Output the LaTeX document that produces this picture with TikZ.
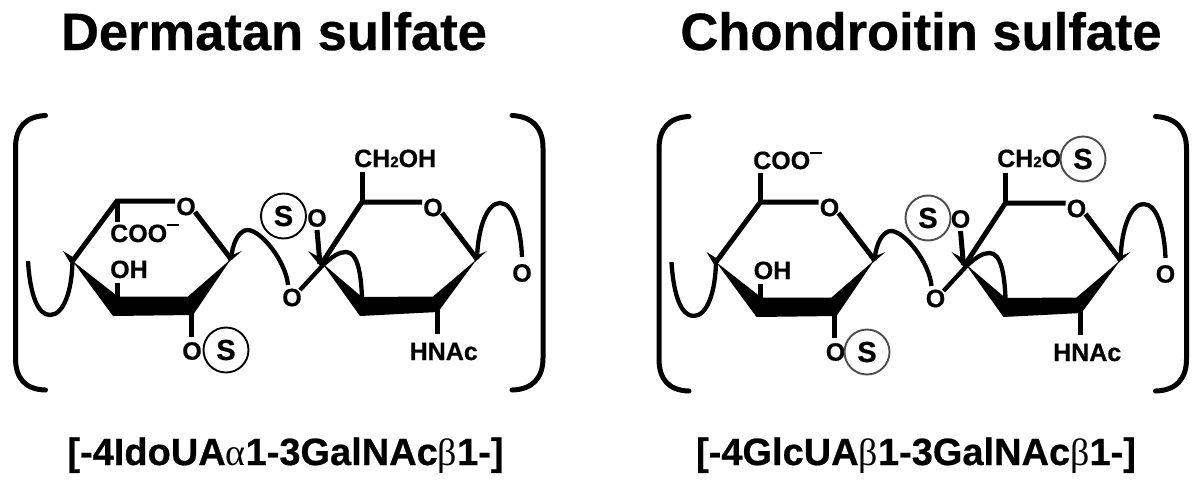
\documentclass[tikz,border=0pt]{standalone}
\usepackage{fontspec}
\setmainfont{Liberation Sans}[BoldFeatures={FakeBold=0.6}]
\newfontfamily\grk{Liberation Serif}
\tikzset{
  bond/.style={line width=5pt,line cap=butt},
  thin curve/.style={line width=4.3pt,line cap=butt},
  wedge/.style={fill=black,draw=none},
  atom/.style={inner sep=0pt,font=\fontsize{25}{25}\selectfont\bfseries,fill=none},
  lbl/.style={atom,anchor=base west},
  sring/.style={circle,draw=#1,line width=1.9pt,minimum size=45pt,inner sep=0pt,font=\fontsize{29}{29}\selectfont\bfseries},
  brk/.style={line width=5pt,line cap=round},
  ttl/.style={inner sep=0pt,anchor=base,font=\fontsize{52.5}{52.5}\selectfont\bfseries},
  sub/.style={inner sep=0pt,anchor=base,font=\fontsize{38}{38}\selectfont\bfseries},
}
% #1 prefix
\newcommand{\sugarcore}[1]{%
  \coordinate (#1a) at (72.5,261);
  \coordinate (#1b) at (117,201);
  \coordinate (#1c) at (231,259);
  \coordinate (#1d) at (322,263);
  \coordinate (#1e) at (362,202);
  \coordinate (#1f) at (477,259);
  \node[atom] (#1o1) at (186,206.5) {O};
  \node[atom] (#1o2) at (433,207.5) {O};
  \node[atom] (#1o3) at (292,297.5) {O};
  \node[atom] (#1o4) at (317,218) {O};
  \node[atom] (#1o5) at (522,273) {O};
  \node[atom] (#1o6) at (192,351) {O};
  \node[lbl] (#1oh) at (110,278) {OH};
  \node[lbl] (#1hn) at (409.5,360) {HNAc};
  % brackets
  \draw[brk] (45.5,115.5) .. controls (25,116.5) and (15.5,128) .. (15.5,148) -- (15.5,358) .. controls (15.5,378) and (25,389.5) .. (45.5,390);
  \draw[brk] (512,115.5) .. controls (532.5,116.5) and (543,128) .. (543,148) -- (543,358) .. controls (543,378) and (532.5,389.5) .. (512,390);
  % first ring
  \fill[wedge] (#1a) -- (118,296.5) -- (188,296.5) -- (#1c) -- (193,315) -- (113,316) -- cycle;
  \fill[wedge] (63,251) -- (76,259) -- (72,266) -- cycle;
  \fill[wedge] (242,251) -- (229,262) -- (227,257) -- cycle;
  \draw[bond] (#1a) -- (#1b) -- (175,201);
  \draw[bond] (195,212) -- (#1c);
  \draw[thin curve] (28,261) .. controls (30,295) and (38,315) .. (50,315) .. controls (64,315) and (72,290) .. (#1a);
  \draw[bond] (117,283) -- (117,297);
  \draw[bond] (191,313) -- (191,337);
  % link
  \draw[thin curve] (#1c) .. controls (233,240) and (240,230) .. (248,230) .. controls (262,231) and (286,262) .. (288,285);
  % second ring
  \fill[wedge] (#1d) -- (362,297) -- (433,296.5) -- (#1f) -- (438,312) -- (360,316) -- cycle;
  \fill[wedge] (308,251) -- (326,261) -- (321,267) -- cycle;
  \fill[wedge] (487,251) -- (475,262) -- (473,257) -- cycle;
  \draw[bond] (#1d) -- (#1e) -- (422,202);
  \draw[bond] (442,213) -- (#1f);
  \draw[thin curve] (300,290) -- (323,265) .. controls (333,256) and (339,252) .. (346,252) .. controls (358,252) and (361,275) .. (362,297);
  \draw[thin curve] (#1f) .. controls (478,225) and (488,203) .. (500,203) .. controls (514,203) and (521,230) .. (522,257);
  \draw[bond] (317,230) -- (320,264);
  \draw[bond] (437,310) -- (437,334);
  \draw[bond] (#1e) -- (362,172);
}
\begin{document}
\begin{tikzpicture}[x=1pt,y=-1pt]
\useasboundingbox (0,0) rectangle (1200,485);
\node[ttl] (t1) at (274,50) {Dermatan sulfate};
\node[ttl] (t2) at (921,50) {Chondroitin sulfate};
\node[sub] (b1) at (285.5,465) {[-4IdoUA{\grk\mdseries α}1-3GalNAc{\grk\mdseries β}1-]};
\node[sub] (b2) at (916,465) {[-4GlcUA{\grk\mdseries β}1-3GalNAc{\grk\mdseries β}1-]};
\begin{scope}
  \sugarcore{l}
  \draw[bond] (lb) -- (117,222);
  \node[lbl] (lcoo) at (110,242) {COO};
  \draw[line width=1.8pt] (167,225) -- (179,225);
  \node[lbl] (lch) at (354,167) {CH{\fontsize{15}{15}\selectfont 2}OH};
  \node[sring=black] (ls1) at (283.5,216) {S};
  \node[sring=black] (ls2) at (226,350) {S};
\end{scope}
\begin{scope}[shift={(643.5,1)}]
  \sugarcore{r}
  \draw[bond] (rb) -- (117,172);
  \node[lbl] (rcoo) at (109.5,168) {COO};
  \draw[line width=1.8pt] (166,152) -- (178,152);
  \node[lbl] (rch) at (353.5,166) {CH{\fontsize{15}{15}\selectfont 2}O};
  \node[sring=black!70] (rs1) at (284.5,217) {S};
  \node[sring=black!70] (rs2) at (223.5,351) {S};
  \node[sring=black!70] (rs3) at (439.5,158) {S};
\end{scope}
\end{tikzpicture}
\end{document}
